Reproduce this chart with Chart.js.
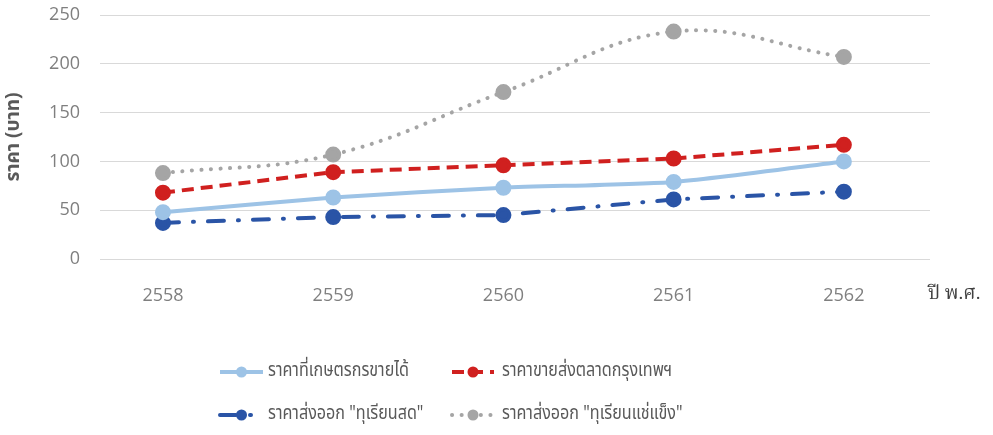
<!DOCTYPE html>
<html>
<head>
<meta charset="utf-8">
<script src="https://cdn.jsdelivr.net/npm/chart.js@4"></script>
<style>
  body { margin: 0; background: #fff; }
  #wrap { width: 993px; height: 435px; }
</style>
</head>
<body>
<div id="wrap"><canvas id="priceChart"></canvas></div>
<script>
const years = [2558, 2559, 2560, 2561, 2562];
const farmPrice = [48, 63, 73, 79, 100];
const wholesaleBkk = [68, 89, 96, 103, 117];
const exportFresh = [37, 43, 45, 61, 69];
const exportFrozen = [88, 107, 171, 233, 207];
const yTicks = [0, 50, 100, 150, 200, 250];

const thaiFont = '"Noto Sans Thai", "Noto Sans", "Open Sans", sans-serif';

function pts(vals) {
  return vals.map((v, i) => ({ x: years[i], y: v }));
}

// legend drawn on canvas so line dashes show like the original
const legendPlugin = {
  id: 'bottomLegend',
  afterDraw(chart) {
    const c = chart.ctx;
    const slots = [
      { x1: 220, x2: 263, tx: 268, y: 372 },
      { x1: 452, x2: 494, tx: 502, y: 372 },
      { x1: 220, x2: 263, tx: 268, y: 415 },
      { x1: 452, x2: 494, tx: 502, y: 415 }
    ];
    chart.data.datasets.forEach((ds, i) => {
      const s = slots[i];
      c.save();
      c.strokeStyle = ds.borderColor;
      c.lineWidth = ds.borderWidth;
      c.lineCap = ds.borderCapStyle || 'butt';
      c.setLineDash(ds.borderDash || []);
      c.beginPath();
      c.moveTo(s.x1, s.y);
      c.lineTo(s.x2, s.y);
      c.stroke();
      c.setLineDash([]);
      c.fillStyle = ds.pointBackgroundColor;
      c.beginPath();
      c.arc((s.x1 + s.x2) / 2, s.y, 5.5, 0, Math.PI * 2);
      c.fill();
      // original font is a narrow Thai face, squeeze horizontally
      c.translate(s.tx, s.y);
      c.scale(0.85, 1);
      c.fillStyle = '#595959';
      c.font = '19px ' + thaiFont;
      c.textBaseline = 'middle';
      c.fillText(ds.label, 0, 0);
      c.restore();
    });
    // x axis unit at the right end
    c.save();
    c.fillStyle = '#404040';
    c.font = '19px "Liberation Serif", "Noto Serif Thai", serif';
    c.textBaseline = 'middle';
    c.fillText('ปี พ.ศ.', 928, 294);
    c.restore();
  }
};

const ctx = document.getElementById('priceChart').getContext('2d');
const priceChart = new Chart(ctx, {
  type: 'line',
  data: {
    datasets: [
      {
        label: 'ราคาที่เกษตรกรขายได้',
        data: pts(farmPrice),
        borderColor: '#9DC3E6',
        pointBackgroundColor: '#9DC3E6',
        borderWidth: 4,
        tension: 0.2
      },
      {
        label: 'ราคาขายส่งตลาดกรุงเทพฯ',
        data: pts(wholesaleBkk),
        borderColor: '#D0201F',
        pointBackgroundColor: '#D0201F',
        borderWidth: 4,
        borderDash: [12, 7]
      },
      {
        label: 'ราคาส่งออก "ทุเรียนสด"',
        data: pts(exportFresh),
        borderColor: '#2A54A6',
        pointBackgroundColor: '#2A54A6',
        borderWidth: 4,
        borderCapStyle: 'round',
        borderDash: [16, 14, 1, 14]
      },
      {
        label: 'ราคาส่งออก "ทุเรียนแช่แข็ง"',
        data: pts(exportFrozen),
        borderColor: '#A5A5A5',
        pointBackgroundColor: '#A5A5A5',
        borderWidth: 4,
        borderCapStyle: 'round',
        borderDash: [0.1, 9.5],
        tension: 0.4
      }
    ]
  },
  options: {
    responsive: true,
    maintainAspectRatio: false,
    animation: false,
    layout: { padding: { top: 15, right: 63, left: 0, bottom: 0 } },
    elements: {
      point: { radius: 6, borderWidth: 0, hoverRadius: 6 },
      line: { fill: false }
    },
    plugins: {
      legend: { display: false },
      tooltip: { enabled: false }
    },
    scales: {
      x: {
        type: 'linear',
        min: 2557.63,
        max: 2562.506,
        border: { display: false },
        grid: { display: false, drawTicks: false },
        afterBuildTicks: (scale) => { scale.ticks = years.map(v => ({ value: v })); },
        afterFit: (scale) => {
          scale.height = 176;
          scale.paddingLeft = 0;
          scale.paddingRight = 0;
        },
        ticks: {
          padding: 26,
          color: '#7F7F7F',
          font: { size: 18, family: '"Open Sans", sans-serif' },
          callback: (v) => String(v)
        }
      },
      y: {
        min: 0,
        max: 250,
        border: { display: false },
        afterBuildTicks: (scale) => { scale.ticks = yTicks.map(v => ({ value: v })); },
        afterFit: (scale) => {
          scale.width = 100;
          scale.paddingTop = 0;
          scale.paddingBottom = 0;
        },
        grid: { color: '#D9D9D9', lineWidth: 1, drawTicks: false },
        ticks: {
          padding: 20,
          color: '#7F7F7F',
          font: { size: 18, family: '"Open Sans", sans-serif' }
        },
        title: {
          display: true,
          text: 'ราคา (บาท)',
          color: '#595959',
          padding: { top: 4, bottom: 12 },
          font: { size: 19, weight: 'bold', family: thaiFont }
        }
      }
    }
  },
  plugins: [legendPlugin]
});
</script>
</body>
</html>
